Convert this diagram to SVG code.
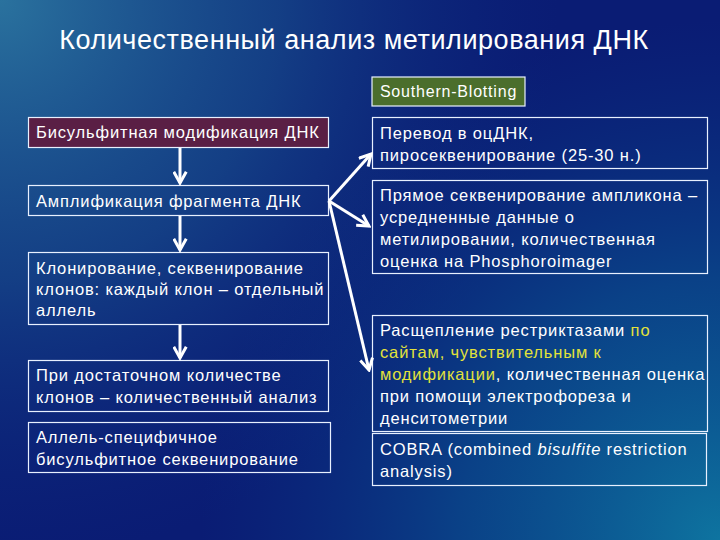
<svg xmlns="http://www.w3.org/2000/svg" width="720" height="540" viewBox="0 0 720 540">
<defs>
<radialGradient id="tl" cx="0" cy="0" r="560" gradientUnits="userSpaceOnUse">
<stop offset="0" stop-color="#2a729e"/>
<stop offset="0.5" stop-color="#1a5590" stop-opacity="0.6"/>
<stop offset="1" stop-color="#0b2a80" stop-opacity="0"/>
</radialGradient>
<radialGradient id="br" cx="720" cy="540" r="520" gradientUnits="userSpaceOnUse">
<stop offset="0" stop-color="#0e74a0"/>
<stop offset="0.5" stop-color="#0a5a94" stop-opacity="0.6"/>
<stop offset="1" stop-color="#0a3a88" stop-opacity="0"/>
</radialGradient>
<marker id="ah" viewBox="0 0 12 12" refX="10" refY="6" markerWidth="15" markerHeight="15" markerUnits="userSpaceOnUse" orient="auto">
<path d="M1,1 L10,6 L1,11" fill="none" stroke="#ffffff" stroke-width="2.4" stroke-linejoin="miter"/>
</marker>
</defs>
<style>
.t{font-family:"Liberation Sans",Arial,sans-serif;fill:#ffffff;}
.lt{font-size:16.5px;letter-spacing:0.85px;}
.box{fill:none;stroke:#e8f0ff;stroke-width:1.2;}
.y{fill:#e2e23a;}
.con{stroke:#ffffff;stroke-width:3;fill:none;}
</style>
<rect width="720" height="540" fill="#0a1c74"/>
<rect width="720" height="540" fill="url(#tl)"/>
<rect width="720" height="540" fill="url(#br)"/>

<text class="t" x="354" y="49" font-size="27" letter-spacing="0.55" text-anchor="middle" id="title">Количественный анализ метилирования ДНК</text>

<g id="southern">
<rect x="372" y="77" width="153" height="29" fill="#4b6e2c" stroke="#e8f0ff" stroke-width="1.2"/>
<text class="t" x="448.5" y="97" font-size="16" letter-spacing="0.8" text-anchor="middle">Southern-Blotting</text>
</g>

<g id="bisulfite">
<rect x="28.5" y="117.5" width="300" height="30" fill="#5a1f45" stroke="#e8f0ff" stroke-width="1.2"/>
<text class="t lt" x="36" y="138">Бисульфитная модификация ДНК</text>
</g>
<g id="amplification">
<rect class="box" x="28.5" y="185.5" width="300" height="30"/>
<text class="t lt" x="36" y="207">Амплификация фрагмента ДНК</text>
</g>
<g id="cloning">
<rect class="box" x="28.5" y="252.5" width="300" height="72"/>
<text class="t lt" x="36" y="274">Клонирование, секвенирование</text>
<text class="t lt" x="36" y="295">клонов: каждый клон – отдельный</text>
<text class="t lt" x="36" y="316">аллель</text>
</g>
<g id="quant">
<rect class="box" x="28.5" y="360.5" width="300" height="51"/>
<text class="t lt" x="36" y="381">При достаточном количестве</text>
<text class="t lt" x="36" y="403">клонов – количественный анализ</text>
</g>
<g id="allele">
<rect class="box" x="28.5" y="422.5" width="302" height="50"/>
<text class="t lt" x="36" y="443">Аллель-специфичное</text>
<text class="t lt" x="36" y="465">бисульфитное секвенирование</text>
</g>

<g id="pyro">
<rect class="box" x="372.5" y="117.5" width="335" height="51"/>
<text class="t lt" x="380" y="139">Перевод в оцДНК,</text>
<text class="t lt" x="380" y="161">пиросеквенирование (25-30 н.)</text>
</g>
<g id="direct">
<rect class="box" x="372.5" y="180.5" width="335" height="93"/>
<text class="t lt" x="380" y="201">Прямое секвенирование ампликона –</text>
<text class="t lt" x="380" y="223">усредненные данные о</text>
<text class="t lt" x="380" y="245">метилировании, количественная</text>
<text class="t lt" x="380" y="267">оценка на Phosphoroimager</text>
</g>
<g id="restriction">
<rect class="box" x="372.5" y="315.5" width="335" height="116"/>
<text class="t lt" x="380" y="336">Расщепление рестриктазами <tspan class="y">по</tspan></text>
<text class="t lt y" x="380" y="358">сайтам, чувствительным к</text>
<text class="t lt" x="380" y="380"><tspan class="y">модификации</tspan>, количественная оценка</text>
<text class="t lt" x="380" y="402">при помощи электрофореза и</text>
<text class="t lt" x="380" y="424">денситометрии</text>
</g>
<g id="cobra">
<rect class="box" x="372.5" y="433.5" width="334" height="52"/>
<text class="t lt" x="380" y="455">COBRA (combined <tspan font-style="italic">bisulfite</tspan> restriction</text>
<text class="t lt" x="380" y="477">analysis)</text>
</g>

<g id="connectors">
<line class="con" x1="180" y1="148" x2="180" y2="183" marker-end="url(#ah)"/>
<line class="con" x1="180" y1="216" x2="180" y2="250" marker-end="url(#ah)"/>
<line class="con" x1="180" y1="325" x2="180" y2="358" marker-end="url(#ah)"/>
<line class="con" x1="329" y1="201" x2="371" y2="154" marker-end="url(#ah)"/>
<line class="con" x1="329" y1="201" x2="369" y2="226" marker-end="url(#ah)"/>
<line class="con" x1="329" y1="201" x2="369" y2="370" marker-end="url(#ah)"/>
</g>
</svg>
